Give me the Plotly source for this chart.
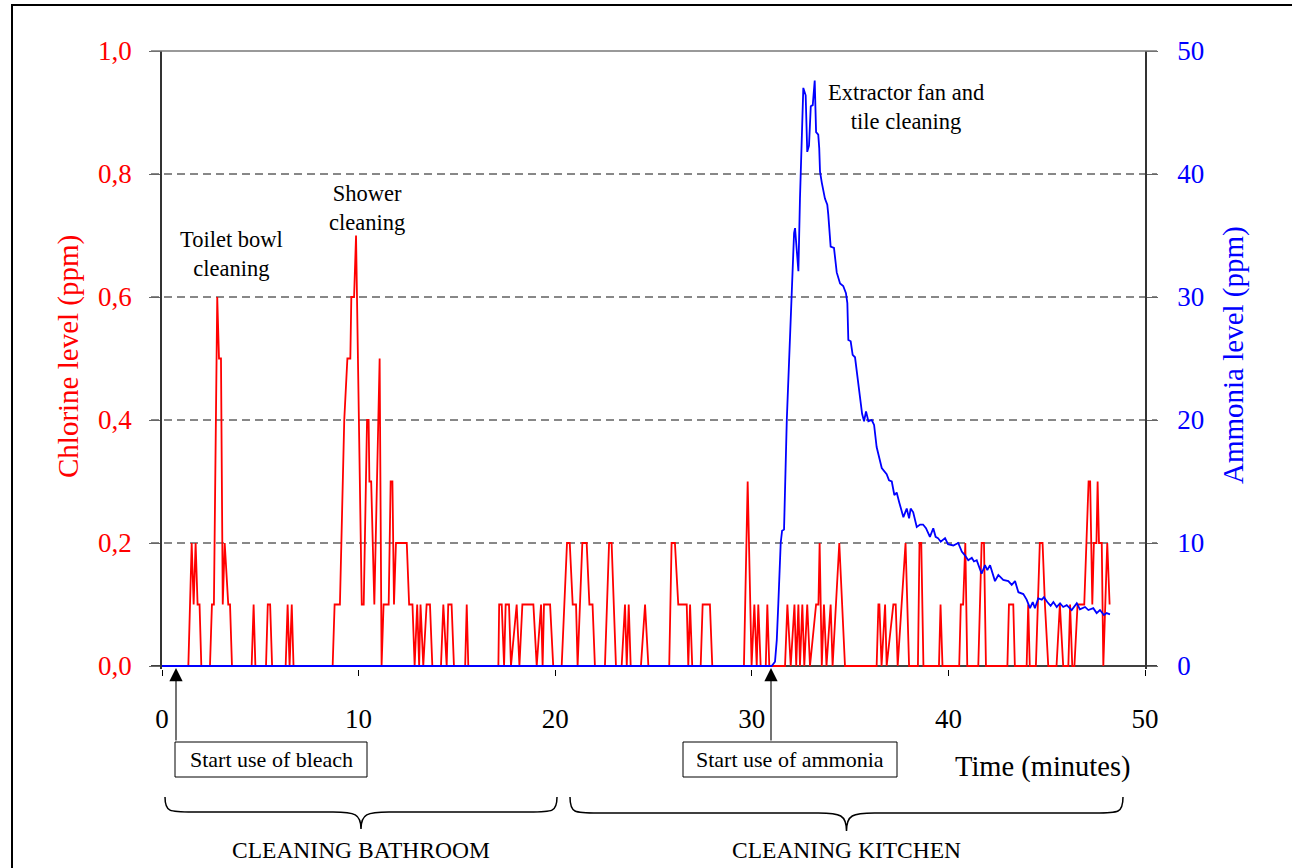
import plotly.graph_objects as go

# ---------------- data ----------------
chlorine_time = [0, 1.34, 1.51, 1.61, 1.71, 1.81, 1.91, 2.0, 2.44, 2.54, 2.64, 2.81, 2.9, 3.0, 3.09, 3.19, 3.37, 3.46, 3.56,
                 4.56, 4.66, 4.75, 5.29, 5.38, 5.5, 5.6, 6.29, 6.39, 6.49, 6.6, 6.69, 8.68, 8.78, 9.05, 9.27, 9.43, 9.58,
                 9.63, 9.77, 9.87, 10.16, 10.26, 10.43, 10.51, 10.55, 10.64, 10.8, 11.07, 11.17, 11.27, 11.53, 11.63, 11.72,
                 11.8, 11.9, 12.45, 12.57, 12.74, 12.85, 12.98, 13.08, 13.15, 13.29, 13.46, 13.63, 13.75, 14.19, 14.31, 14.48,
                 14.56, 14.73, 14.85, 15.42, 15.5, 15.58, 17.11, 17.15, 17.28, 17.4, 17.48, 17.65, 17.75, 18.04, 18.18, 18.33,
                 18.89, 19.06, 19.28, 19.36, 19.43, 19.74, 19.9, 20.33, 20.6, 20.74, 20.89, 21.06, 21.14, 21.38, 21.6, 21.74,
                 21.9, 22.02, 22.53, 22.74, 22.87, 23.09, 23.38, 23.55, 23.64, 23.74, 23.84, 24.36, 24.57, 24.74, 25.8, 25.92,
                 26.09, 26.26, 26.69, 26.77, 26.86, 26.97, 27.4, 27.5, 27.87, 27.99, 29.6, 29.79, 29.99, 30.13, 30.25, 30.33,
                 30.45, 30.71, 30.79, 30.89, 31.69, 31.81, 31.98, 32.17, 32.26, 32.37, 32.45, 32.57, 32.67, 32.82, 32.96, 33.27,
                 33.39, 33.45, 33.56, 33.67, 33.8, 34.01, 34.11, 34.45, 34.74, 36.35, 36.44, 36.49, 36.6, 36.78, 36.86, 37.2,
                 37.32, 37.42, 37.82, 38.0, 38.45, 38.53, 38.62, 38.73, 39.52, 39.6, 39.7, 40.55, 40.63, 40.75, 40.86, 40.96,
                 41.52, 41.69, 41.81, 41.91, 43.0, 43.08, 43.3, 43.38, 43.98, 44.06, 44.14, 44.45, 44.65, 44.79, 44.91, 45.08,
                 45.5, 45.67, 45.84, 46.1, 46.19, 46.3, 46.41, 46.57, 46.91, 47.13, 47.21, 47.32, 47.4, 47.53, 47.59, 47.66,
                 47.8, 47.88, 48.08, 48.2]
chlorine_ppm = [0, 0, 0.2, 0.1, 0.2, 0.1, 0.1, 0, 0, 0.1, 0.1, 0.6, 0.5, 0.5, 0.1, 0.2, 0.1, 0.1, 0,
                0, 0.1, 0, 0, 0.1, 0.1, 0, 0, 0.1, 0, 0.1, 0, 0, 0.1, 0.1, 0.4, 0.5, 0.5,
                0.6, 0.6, 0.7, 0.1, 0.1, 0.4, 0.4, 0.3, 0.3, 0.1, 0.5, 0, 0.1, 0.1, 0.3, 0.3,
                0.1, 0.2, 0.2, 0.1, 0.1, 0, 0.1, 0, 0.1, 0, 0.1, 0.1, 0, 0, 0.1, 0,
                0.1, 0.1, 0, 0, 0.1, 0, 0, 0.1, 0.1, 0, 0.1, 0.1, 0, 0.1, 0, 0.1,
                0.1, 0, 0.1, 0, 0.1, 0.1, 0, 0, 0.2, 0.2, 0.1, 0.1, 0, 0.2, 0.2, 0.1,
                0.1, 0, 0, 0.2, 0.2, 0, 0, 0.1, 0, 0.1, 0, 0, 0.1, 0, 0, 0.2,
                0.2, 0.1, 0.1, 0, 0.1, 0, 0, 0.1, 0.1, 0, 0, 0.3, 0, 0.1, 0, 0.1,
                0, 0, 0.1, 0, 0, 0.1, 0, 0.1, 0, 0.1, 0, 0.1, 0, 0.1, 0, 0.1,
                0.1, 0.2, 0, 0.1, 0, 0.1, 0, 0.2, 0, 0, 0.1, 0.1, 0, 0.1, 0, 0.1,
                0.1, 0, 0.2, 0, 0, 0.2, 0.2, 0, 0, 0.1, 0, 0, 0.1, 0.1, 0.2, 0,
                0, 0.2, 0.2, 0, 0, 0.1, 0.1, 0, 0, 0.1, 0, 0, 0.2, 0.2, 0.1, 0,
                0, 0.1, 0, 0, 0.1, 0, 0, 0.1, 0.1, 0.3, 0.3, 0.1, 0.2, 0.2, 0.3, 0.2,
                0.2, 0, 0.2, 0.1]

ammonia_time = [0, 31.01, 31.18, 31.27, 31.35, 31.40, 31.47, 31.54, 31.64, 31.78, 31.91, 32.03, 32.15, 32.20, 32.27,
                32.37, 32.45, 32.53, 32.62, 32.74, 32.82, 32.91, 33.00, 33.10, 33.20, 33.27, 33.38, 33.43, 33.47, 33.56,
                33.72, 33.84, 33.89, 34.01, 34.18, 34.32, 34.49, 34.65, 34.79, 34.86, 34.91, 35.03, 35.13, 35.25, 35.37,
                35.50, 35.61, 35.71, 35.81, 35.93, 36.10, 36.22, 36.35, 36.61, 36.86, 36.98, 37.12, 37.25, 37.37, 37.50,
                37.54, 37.71, 37.88, 38.00, 38.08, 38.21, 38.39, 38.56, 38.71, 38.86, 39.06, 39.23, 39.35, 39.47, 39.61,
                39.83, 39.98, 40.25, 40.50, 40.68, 40.84, 41.01, 41.19, 41.30, 41.44, 41.69, 41.86, 41.98, 42.12, 42.37,
                42.54, 42.79, 43.05, 43.22, 43.39, 43.56, 43.81, 43.98, 44.15, 44.29, 44.40, 44.57, 44.75, 44.86, 45.03,
                45.20, 45.34, 45.51, 45.68, 45.84, 46.02, 46.27, 46.53, 46.69, 46.95, 47.12, 47.37, 47.54, 47.71, 47.91,
                48.05, 48.22]
ammonia_ppm = [0, 0, 0.35, 2.1, 5.1, 7.5, 10, 11, 11.1, 20, 25.7, 30.2, 35.2, 35.6, 34,
               32.1, 38, 43, 47, 46.4, 41.8, 42.3, 45.5, 45.6, 47.6, 43.4, 43.2, 42.1, 40.2, 39.3,
               38, 37.5, 36.7, 34.1, 34, 32, 31.1, 30.9, 30.3, 29.5, 26.5, 26.4, 25.3, 25.1, 23.5,
               21.9, 20.5, 19.9, 20.7, 19.9, 20, 19.6, 17.8, 16.1, 15.6, 15.1, 15.0, 13.9, 14.1, 13.3,
               13.1, 12.1, 12.8, 12.0, 12.8, 12.5, 11.3, 11.5, 11.5, 11.2, 10.5, 11.2, 10.5, 10.4, 10.1,
               10.4, 9.9, 9.8, 10.0, 9.3, 9.0, 8.6, 8.8, 8.5, 8.6, 7.5, 8.2, 7.8, 8.2, 6.9,
               7.4, 7.0, 6.9, 6.6, 6.9, 6.0, 5.85, 5.4, 4.7, 5.2, 4.7, 5.5, 5.4, 5.6, 5.2,
               4.9, 5.2, 4.8, 5.1, 4.8, 4.95, 4.55, 5.1, 4.6, 4.8, 4.55, 4.7, 4.3, 4.55, 4.15,
               4.3, 4.2]

x_ticks = [0, 10, 20, 30, 40, 50]
chlorine_ticks = [0, 0.2, 0.4, 0.6, 0.8, 1.0]
chlorine_grid = [0.2, 0.4, 0.6, 0.8]
ammonia_ticks = [0, 10, 20, 30, 40, 50]

# ---------------- layout helpers ----------------
W, H = 1292, 868
L, R, T = 162, 1145, 51
ZERO = 666          # pixel row of the value 0
B = 669             # plot-area bottom (a hair below 0 so zero-level lines are not clipped)
LOW = -(B - ZERO) / (ZERO - T)   # fraction of the full scale below zero


def px(x):
    return (x - L) / (R - L)


def py(y):
    return (B - y) / (B - T)


SERIF = "Liberation Serif, Times New Roman, serif"

fig = go.Figure()
fig.add_trace(go.Scatter(x=chlorine_time, y=chlorine_ppm, mode="lines",
                         line=dict(color="#FF0000", width=1.8), yaxis="y", showlegend=False))
fig.add_trace(go.Scatter(x=ammonia_time, y=ammonia_ppm, mode="lines",
                         line=dict(color="#0000FF", width=1.8), yaxis="y2", showlegend=False))

shapes = []
annotations = []


def label(x, y, text, size=22.5, color="black", angle=0):
    annotations.append(dict(xref="paper", yref="paper", x=px(x), y=py(y), text=text, showarrow=False,
                            xanchor="center", yanchor="middle", textangle=angle,
                            font=dict(family=SERIF, size=size, color=color)))


# outer frame
shapes.append(dict(type="rect", xref="paper", yref="paper", x0=px(12), x1=px(1310), y0=py(890), y1=py(5),
                   line=dict(color="black", width=2), layer="below"))
# dashed grid lines (drawn as shapes so that the zero level stays a solid axis)
for g in chlorine_grid:
    shapes.append(dict(type="line", xref="paper", yref="y", x0=px(151), x1=px(1157), y0=g, y1=g,
                       line=dict(color="#111111", width=1, dash="8px,5px"), layer="below"))
# top solid line
shapes.append(dict(type="line", xref="paper", yref="paper", x0=px(151), x1=px(1157), y0=1, y1=1,
                   line=dict(color="#777777", width=1.5)))
# time axis line at zero
shapes.append(dict(type="line", xref="paper", yref="paper", x0=px(151), x1=px(1157), y0=py(ZERO), y1=py(ZERO),
                   line=dict(color="black", width=1.5), layer="below"))

# boxes
for (bx0, bx1, txt) in [(175, 367, "Start use of bleach"), (683, 897, "Start use of ammonia")]:
    shapes.append(dict(type="rect", xref="paper", yref="paper", x0=px(bx0), x1=px(bx1), y0=py(777), y1=py(742),
                       line=dict(color="black", width=1), fillcolor="white"))
    label((bx0 + bx1) / 2, 759.5, txt, size=22)

# arrows
for ax_px in [176, 771]:
    annotations.append(dict(xref="paper", yref="paper", x=px(ax_px), y=py(668), text="", showarrow=True,
                            ax=0, ay=74, arrowhead=2, arrowsize=2.4, arrowwidth=1.1, arrowcolor="black",
                            standoff=0))


# braces
def brace(x0, x1, yt, ym, yb):
    xc = (x0 + x1) / 2
    pts = [
        f"M {px(x0)},{py(yt)}",
        f"C {px(x0)},{py(ym)} {px(x0 + 4)},{py(ym)} {px(x0 + 28)},{py(ym)}",
        f"L {px(xc - 28)},{py(ym)}",
        f"C {px(xc - 6)},{py(ym)} {px(xc)},{py(ym + 2)} {px(xc)},{py(yb)}",
        f"C {px(xc)},{py(ym + 2)} {px(xc + 6)},{py(ym)} {px(xc + 28)},{py(ym)}",
        f"L {px(x1 - 28)},{py(ym)}",
        f"C {px(x1 - 4)},{py(ym)} {px(x1)},{py(ym)} {px(x1)},{py(yt)}",
    ]
    return " ".join(pts)


shapes.append(dict(type="path", xref="paper", yref="paper", path=brace(165, 557, 797, 812, 829),
                   line=dict(color="black", width=1.5)))
shapes.append(dict(type="path", xref="paper", yref="paper", path=brace(570, 1123, 797, 813, 831),
                   line=dict(color="black", width=1.5)))

label(361, 850, "CLEANING BATHROOM", size=23.5)
label(846, 850, "CLEANING KITCHEN", size=23.5)

# in-plot labels
label(231, 254, "Toilet bowl<br>cleaning")
label(367, 208, "Shower<br>cleaning")
label(906, 107, "Extractor fan and<br>tile cleaning")

# axis titles
label(1043, 767, "Time (minutes)", size=28.5)
label(68, 357, "Chlorine level (ppm)", size=29, color="#FF0000", angle=-90)
label(1233, 355, "Ammonia level (ppm)", size=29, color="#0000FF", angle=-90)

fig.update_layout(
    width=W, height=H,
    margin=dict(l=L, r=W - R, t=T, b=H - B, pad=0),
    paper_bgcolor="white", plot_bgcolor="white",
    separators=",.",
    font=dict(family=SERIF, color="black"),
    xaxis=dict(range=[0, 50], tickvals=x_ticks, showgrid=False, zeroline=False,
               showline=False, layer="below traces",
               ticks="outside", ticklen=6, tickcolor="black", tickwidth=1,
               tickfont=dict(family=SERIF, size=27, color="black"), ticklabelstandoff=20),
    yaxis=dict(range=[LOW * 1.0, 1], tickvals=chlorine_ticks, tickformat=".1f", showgrid=False,
               zeroline=False,
               showline=True, linecolor="#333333", linewidth=1.5, layer="below traces",
               ticks="outside", ticklen=11, tickcolor="#666666", tickwidth=1,
               tickfont=dict(family=SERIF, size=27, color="#FF0000"), ticklabelstandoff=12),
    yaxis2=dict(range=[LOW * 50, 50], tickvals=ammonia_ticks, overlaying="y", side="right", showgrid=False,
                zeroline=False, showline=True, linecolor="#333333", linewidth=1.5, layer="below traces",
                ticks="outside", ticklen=11, tickcolor="#666666", tickwidth=1,
                tickfont=dict(family=SERIF, size=27, color="#0000FF"), ticklabelstandoff=14),
    shapes=shapes, annotations=annotations, showlegend=False,
)

fig.write_html("out.html", config={"displayModeBar": False},
               post_script="document.body.style.margin='0';document.body.style.overflow='hidden';")
